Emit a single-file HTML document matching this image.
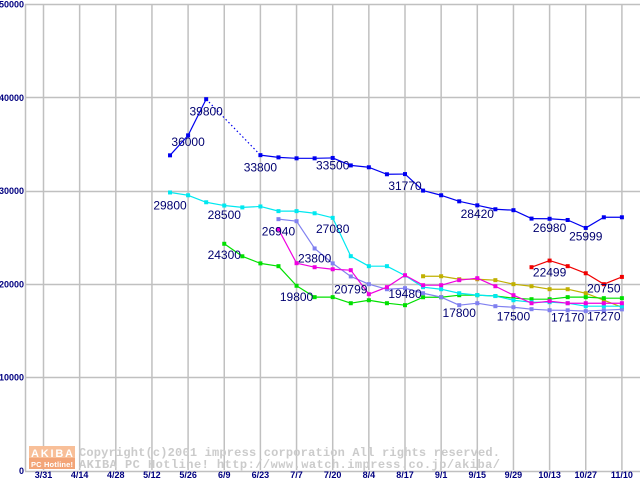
<!DOCTYPE html>
<html><head><meta charset="utf-8"><style>
html,body{margin:0;padding:0;background:#fff;}
svg{display:block;}
</style></head><body>
<svg id="chart" width="640" height="480" viewBox="0 0 640 480" xmlns="http://www.w3.org/2000/svg" font-family="Liberation Sans, sans-serif">
<g id="grid"></g>
<g id="watermark">
 <rect x="29" y="446" width="46" height="12" fill="#f8bf98"/>
 <rect x="29" y="458" width="46" height="11" fill="#f3a578"/>
 <text x="31" y="457" font-size="11" font-weight="bold" fill="#fff" textLength="42">AKIBA</text>
 <text x="31" y="467" font-size="7.5" font-weight="bold" fill="#fff" textLength="42">PC Hotline!</text>
 <text x="79" y="456" font-family="Liberation Mono, monospace" font-size="12" font-weight="bold" fill="#cbcbcb" textLength="421">Copyright(c)2001 impress corporation All rights reserved.</text>
 <text x="79" y="468" font-family="Liberation Mono, monospace" font-size="12" font-weight="bold" fill="#cbcbcb" textLength="421">AKIBA PC Hotline!  http://www.watch.impress.co.jp/akiba/</text>
</g>
<g id="axes"></g>
<g id="series"></g>
<g id="labels"></g>
</svg>
<script>
const xTickLabels = ["3/31","4/14","4/28","5/12","5/26","6/9","6/23","7/7","7/20","8/4","8/17","9/1","9/15","9/29","10/13","10/27","11/10"];
const yTicks = [0,10000,20000,30000,40000,50000];
const N = null;
const seriesBlue    = [N,N,N,N,N,N,N,33780,35920,39800,N,N,33800,33560,33460,33460,33500,32700,32500,31750,31770,30000,29500,28850,28420,28000,27900,27000,26980,26850,25999,27140,27140];
const seriesCyan    = [N,N,N,N,N,N,N,29800,29500,28750,28400,28200,28300,27800,27800,27570,27080,22970,21900,21900,20900,19650,19430,19000,18800,18700,18250,18040,18040,17930,17610,17610,17610];
const seriesGreen   = [N,N,N,N,N,N,N,N,N,N,24300,22960,22200,21900,19800,18580,18580,17930,18250,17930,17720,18570,18570,18790,18790,18700,18470,18360,18360,18580,18580,18470,18470];
const seriesMagenta = [N,N,N,N,N,N,N,N,N,N,N,N,N,25860,22220,21790,21570,21470,18900,19650,20930,19860,19860,20400,20610,19750,18790,17930,18150,17930,17930,17930,17930];
const seriesPurple  = [N,N,N,N,N,N,N,N,N,N,N,N,N,26940,26720,23800,22200,20799,19970,19430,19540,19000,18580,17720,17930,17610,17500,17290,17180,17170,17080,17180,17270];
const seriesOlive   = [N,N,N,N,N,N,N,N,N,N,N,N,N,N,N,N,N,N,N,N,N,20820,20820,20500,20500,20400,19970,19750,19430,19430,19000,18250,17500];
const seriesRed     = [N,N,N,N,N,N,N,N,N,N,N,N,N,N,N,N,N,N,N,N,N,N,N,N,N,N,N,21790,22499,21900,21140,19970,20750];
const labelText  = ["36000","39800","33800","33500","31770","28420","26980","25999","29800","28500","26940","27080","24300","23800","20799","19800","19480","17800","17500","17170","17270","22499","20750"];
const labelWeek  = [8,9,12,16,20,24,28,30,7,10,13,16,10,15,17,14,20,23,26,29,31,28,31];
const labelValue = [35200,38500,32500,32700,30500,27500,26000,25100,28400,27400,25600,25900,23100,22700,19400,18600,18900,16900,16500,16400,16500,21200,19500];

const svg = document.getElementById('chart');
const NS = 'http://www.w3.org/2000/svg';
const X0 = 43, WEEK = 18.075, Y0 = 470.5, YS = 466.5/50000;
function xOf(w){ return X0 + 0.5 + WEEK*w; }
function yOf(v){ return Y0 - v*YS; }
function mk(tag, attrs, parent){ const e=document.createElementNS(NS,tag); for(const k in attrs) e.setAttribute(k,attrs[k]); parent.appendChild(e); return e; }

const grid = document.getElementById('grid');
yTicks.forEach(v=>{
  const l = mk('line',{x1:25,x2:640,y1:Math.round(yOf(v))+0.5,y2:Math.round(yOf(v))+0.5,stroke:'#c0c0c0','stroke-width':1.5},grid);
  
  
});
xTickLabels.forEach((t,i)=>{
  const x = xOf(i*2);
  const l = mk('line',{x1:x,x2:x,y1:4,y2:470,stroke:'#c0c0c0','stroke-width':1.5},grid);
  
  
});
const axes = document.getElementById('axes');
const ax = mk('line',{x1:25.5,x2:25.5,y1:4,y2:471,stroke:'#c0c0c0','stroke-width':1.5},axes);


yTicks.forEach(v=>{
  const t = mk('text',{x:24,y:yOf(v)+3.5,'text-anchor':'end','font-size':9,'font-weight':'bold',fill:'#000080'},axes);
  t.textContent = v;
  
  
});
xTickLabels.forEach((s,i)=>{
  const t = mk('text',{x:xOf(i*2),y:478,'text-anchor':'middle','font-size':9,'font-weight':'bold',fill:'#000080'},axes);
  t.textContent = s;
  
  
});

const sg = document.getElementById('series');
function drawSeries(data, color, name){
  const g = mk('g',{},sg);
  
  
  let prev = -1;
  data.forEach((v,i)=>{
    if(v===null) return;
    if(prev>=0){
      const attrs = {x1:xOf(prev),y1:yOf(data[prev]),x2:xOf(i),y2:yOf(v),stroke:color,'stroke-width':1.2};
      if(i-prev>1) attrs['stroke-dasharray']='1.5,2.5';
      const l = mk('line',attrs,g);
      
      
    }
    prev = i;
  });
  data.forEach((v,i)=>{
    if(v===null) return;
    const r = mk('rect',{x:xOf(i)-2,y:yOf(v)-2,width:4,height:4,fill:color},g);
    
    
  });
}
drawSeries(seriesOlive,'#c0b000','series-olive');
drawSeries(seriesGreen,'#00e000','series-green');
drawSeries(seriesPurple,'#8080f0','series-purple');
drawSeries(seriesCyan,'#00e8f0','series-cyan');
drawSeries(seriesMagenta,'#f000e0','series-magenta');
drawSeries(seriesRed,'#f00000','series-red');
drawSeries(seriesBlue,'#0000f0','series-blue');

const lg = document.getElementById('labels');
labelText.forEach((s,i)=>{
  const t = mk('text',{x:xOf(labelWeek[i]),y:yOf(labelValue[i])+4,'text-anchor':'middle','font-size':12,fill:'#000070'},lg);
  t.textContent = s;
  
  
});
</script>
</body></html>
